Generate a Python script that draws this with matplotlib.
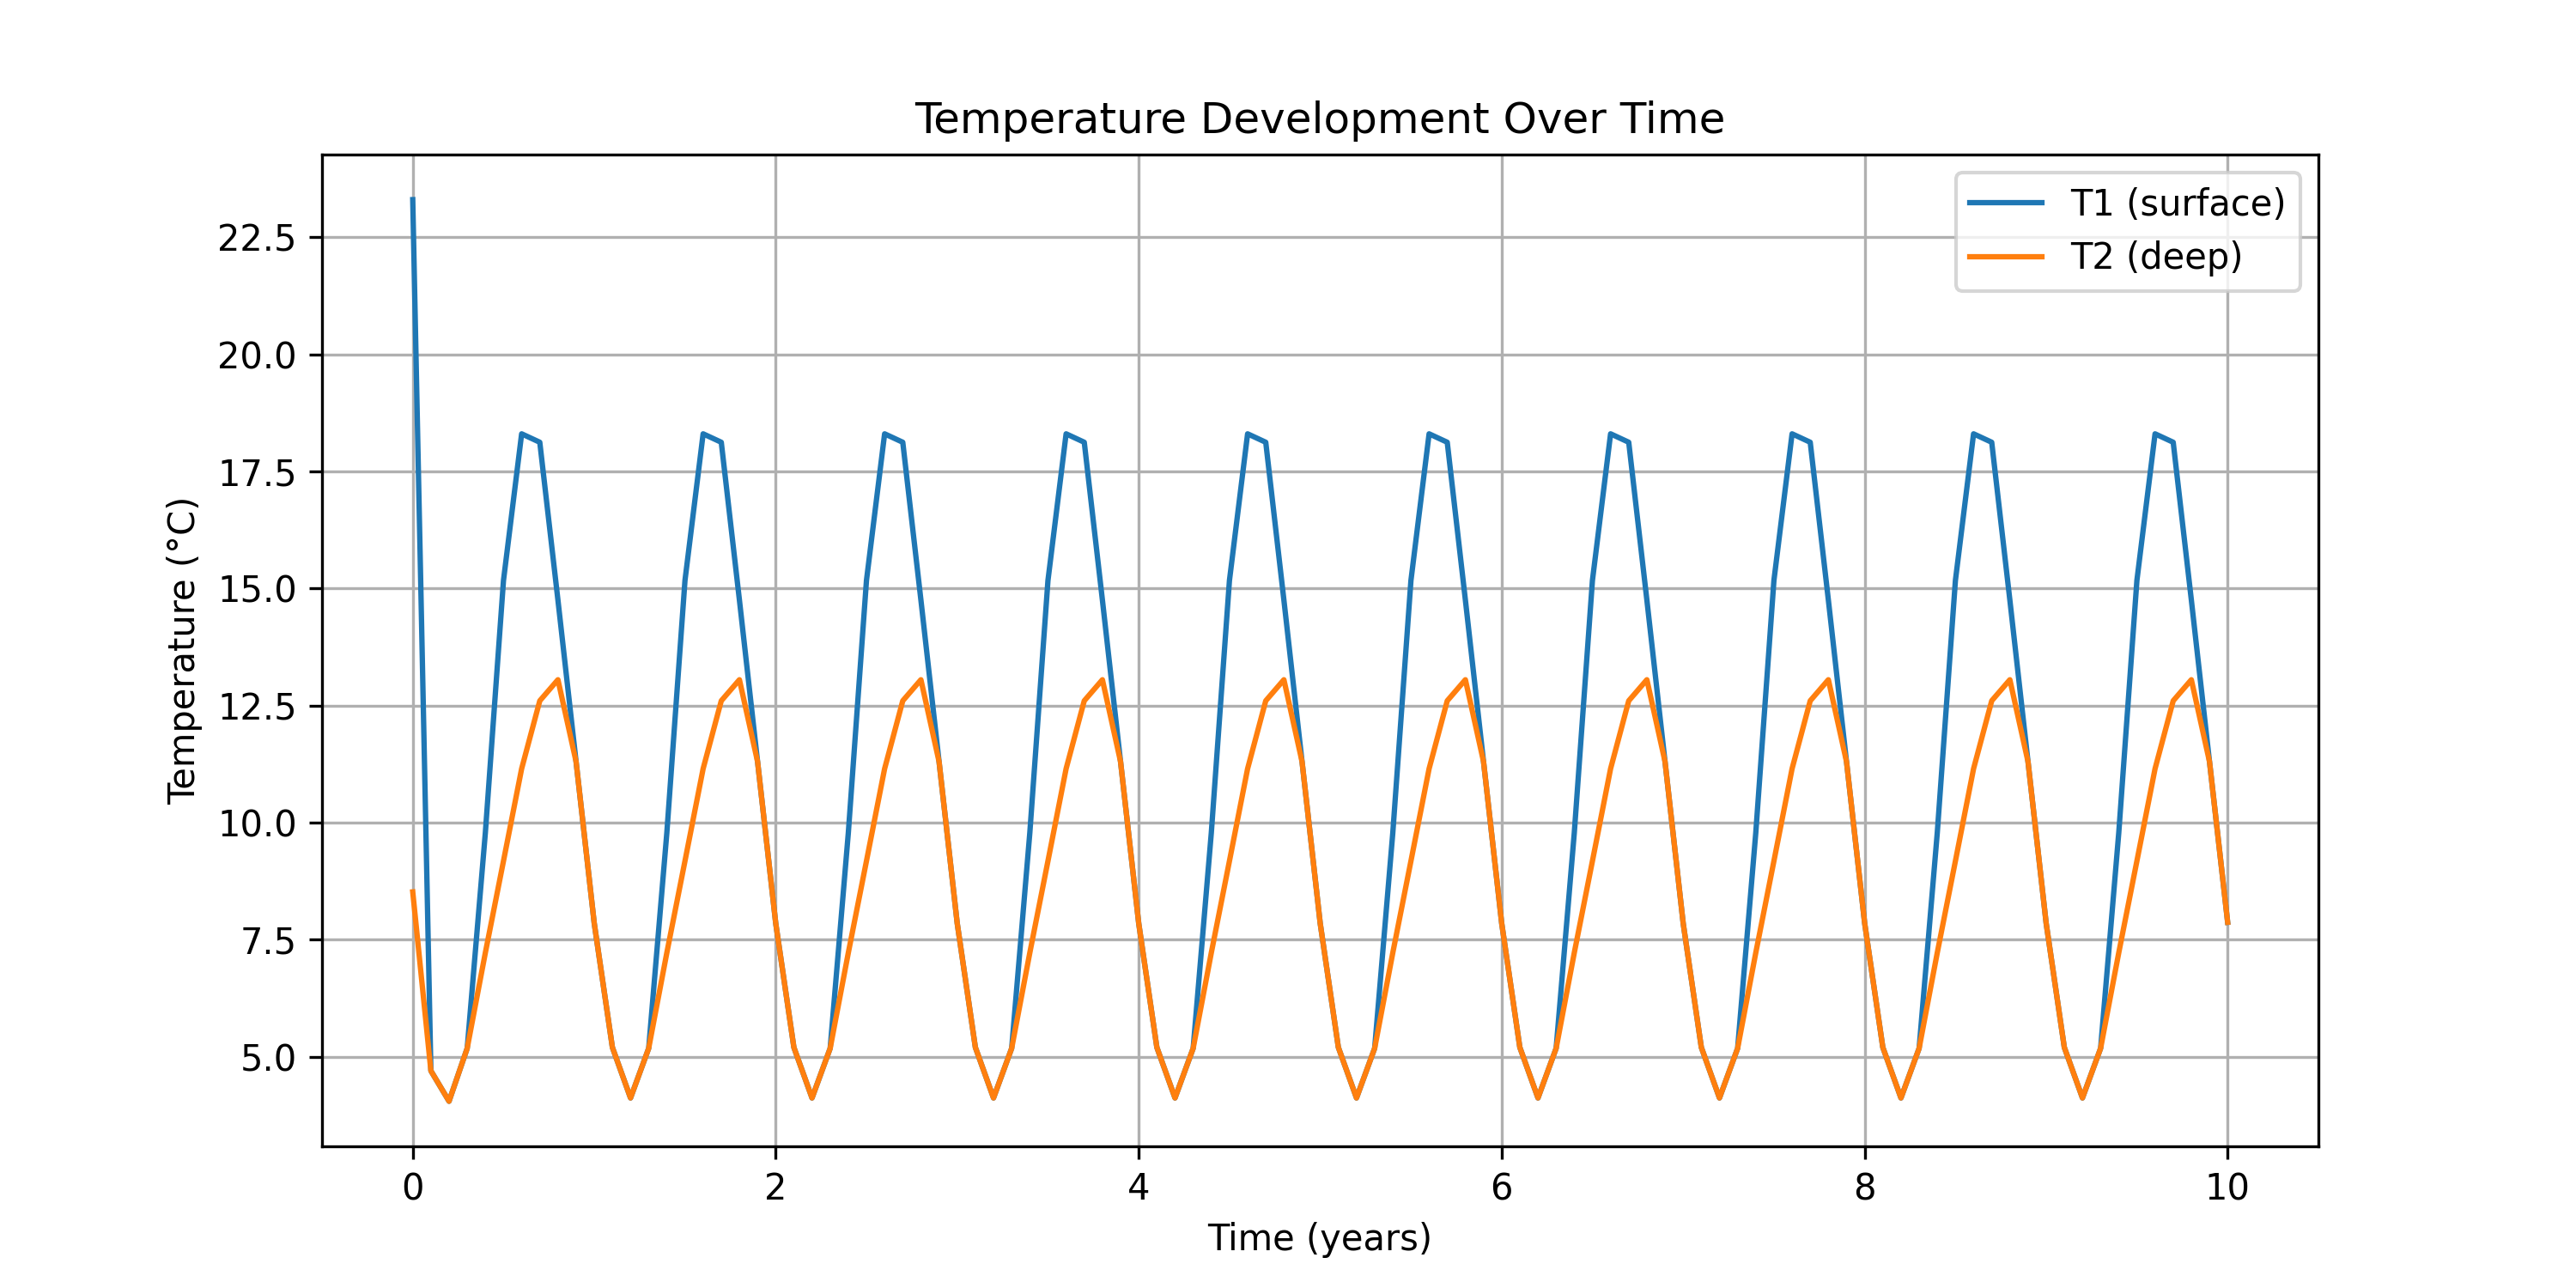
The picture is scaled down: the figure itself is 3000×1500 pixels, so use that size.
import numpy as np
import matplotlib
matplotlib.use("Agg")
import matplotlib.pyplot as plt

time_years = np.linspace(0, 10, 101)

t1_surface = [
    23.30,
    4.70, 4.05, 5.18, 9.78, 15.17, 18.30, 18.12, 14.75, 11.30,
    7.85, 5.20, 4.12, 5.18, 9.78, 15.17, 18.30, 18.12, 14.75, 11.30,
    7.85, 5.20, 4.12, 5.18, 9.78, 15.17, 18.30, 18.12, 14.75, 11.30,
    7.85, 5.20, 4.12, 5.18, 9.78, 15.17, 18.30, 18.12, 14.75, 11.30,
    7.85, 5.20, 4.12, 5.18, 9.78, 15.17, 18.30, 18.12, 14.75, 11.30,
    7.85, 5.20, 4.12, 5.18, 9.78, 15.17, 18.30, 18.12, 14.75, 11.30,
    7.85, 5.20, 4.12, 5.18, 9.78, 15.17, 18.30, 18.12, 14.75, 11.30,
    7.85, 5.20, 4.12, 5.18, 9.78, 15.17, 18.30, 18.12, 14.75, 11.30,
    7.85, 5.20, 4.12, 5.18, 9.78, 15.17, 18.30, 18.12, 14.75, 11.30,
    7.85, 5.20, 4.12, 5.18, 9.78, 15.17, 18.30, 18.12, 14.75, 11.30,
    7.87,
]

t2_deep = [
    8.52,
    4.70, 4.05, 5.18, 7.22, 9.18, 11.15, 12.60, 13.05, 11.30,
    7.85, 5.20, 4.12, 5.18, 7.22, 9.18, 11.15, 12.60, 13.05, 11.30,
    7.85, 5.20, 4.12, 5.18, 7.22, 9.18, 11.15, 12.60, 13.05, 11.30,
    7.85, 5.20, 4.12, 5.18, 7.22, 9.18, 11.15, 12.60, 13.05, 11.30,
    7.85, 5.20, 4.12, 5.18, 7.22, 9.18, 11.15, 12.60, 13.05, 11.30,
    7.85, 5.20, 4.12, 5.18, 7.22, 9.18, 11.15, 12.60, 13.05, 11.30,
    7.85, 5.20, 4.12, 5.18, 7.22, 9.18, 11.15, 12.60, 13.05, 11.30,
    7.85, 5.20, 4.12, 5.18, 7.22, 9.18, 11.15, 12.60, 13.05, 11.30,
    7.85, 5.20, 4.12, 5.18, 7.22, 9.18, 11.15, 12.60, 13.05, 11.30,
    7.85, 5.20, 4.12, 5.18, 7.22, 9.18, 11.15, 12.60, 13.05, 11.30,
    7.87,
]

# 2. PLOT
plt.figure(figsize=(10, 5))
plt.plot(time_years, t1_surface, label="T1 (surface)")
plt.plot(time_years, t2_deep, label="T2 (deep)")

plt.title("Temperature Development Over Time")
plt.xlabel("Time (years)")
plt.ylabel("Temperature (°C)")
plt.legend(loc="upper right")
plt.grid(True)

# 3. SAVE
plt.savefig("out.png", dpi=300)
